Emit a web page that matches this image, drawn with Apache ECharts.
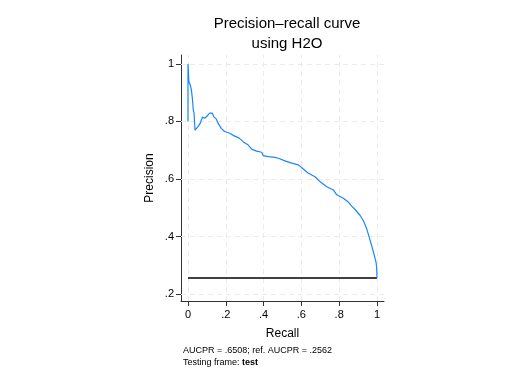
<!DOCTYPE html>
<html>
<head>
<meta charset="utf-8">
<script src="https://cdn.jsdelivr.net/npm/echarts@6/dist/echarts.min.js"></script>
<style>html,body{margin:0;padding:0;background:#fff;}#c{width:528px;height:384px;}</style>
</head>
<body>
<div id="c"></div>
<script>
const recall = [0, 0, 0.005, 0.012, 0.018, 0.023, 0.026, 0.028, 0.032, 0.037, 0.053, 0.065, 0.076, 0.088, 0.101, 0.115, 0.129, 0.136, 0.150, 0.159, 0.176, 0.194, 0.221, 0.247, 0.266, 0.282, 0.293, 0.319, 0.337, 0.363, 0.390, 0.398, 0.425, 0.460, 0.478, 0.513, 0.549, 0.584, 0.610, 0.637, 0.672, 0.698, 0.734, 0.769, 0.787, 0.822, 0.848, 0.866, 0.884, 0.910, 0.928, 0.946, 0.959, 0.972, 0.984, 0.995, 0.998, 1.0];
const precision = [0.80, 1.0, 0.938, 0.927, 0.910, 0.881, 0.875, 0.840, 0.829, 0.770, 0.782, 0.794, 0.815, 0.811, 0.819, 0.829, 0.829, 0.817, 0.808, 0.794, 0.776, 0.765, 0.759, 0.749, 0.744, 0.736, 0.729, 0.718, 0.704, 0.697, 0.693, 0.681, 0.678, 0.675, 0.672, 0.663, 0.655, 0.649, 0.635, 0.620, 0.608, 0.591, 0.573, 0.562, 0.545, 0.533, 0.520, 0.506, 0.494, 0.474, 0.455, 0.426, 0.397, 0.368, 0.339, 0.310, 0.293, 0.2562];
const refAUCPR = 0.2562;
const xTicks = [0, 0.2, 0.4, 0.6, 0.8, 1];
const yTicks = [0.2, 0.4, 0.6, 0.8, 1];
const fmt = v => v === 0 ? '0' : (v === 1 ? '1' : String(v).replace(/^0/, ''));

const chart = echarts.init(document.getElementById('c'), null, {renderer: 'canvas'});
const gridStyle = {color: '#ebebeb', type: [5, 4], width: 1};
const markLines = xTicks.map(v => ({xAxis: v})).concat(yTicks.map(v => ({yAxis: v})));
chart.setOption({
  animation: false,
  title: {
    text: 'Precision\u2013recall curve\nusing H2O',
    left: 282, top: 9, textAlign: 'center',
    textStyle: {fontFamily: 'Liberation Sans, Arial', fontWeight: 'normal', fontSize: 15, color: '#000', lineHeight: 20}
  },
  grid: {left: 181, right: 144, top: 55, bottom: 83},
  xAxis: {
    type: 'value', min: -0.037, max: 1.037,
    name: 'Recall', nameLocation: 'middle', nameGap: 27,
    nameTextStyle: {fontFamily: 'Liberation Sans, Arial', fontSize: 12, color: '#000'},
    axisLine: {show: true, onZero: false, lineStyle: {color: '#333', width: 1}},
    axisTick: {show: true, length: 5, customValues: xTicks, lineStyle: {color: '#333'}},
    axisLabel: {customValues: xTicks, formatter: fmt, fontFamily: 'Liberation Sans, Arial', fontSize: 11, color: '#000', margin: 8},
    splitLine: {show: false}
  },
  yAxis: {
    type: 'value', min: 0.176, max: 1.031,
    name: 'Precision', nameLocation: 'middle', nameGap: 25, nameRotate: 90,
    nameTextStyle: {fontFamily: 'Liberation Sans, Arial', fontSize: 12, color: '#000'},
    axisLine: {show: true, onZero: false, lineStyle: {color: '#333', width: 1}},
    axisTick: {show: true, length: 5, customValues: yTicks, lineStyle: {color: '#333'}},
    axisLabel: {customValues: yTicks, formatter: fmt, fontFamily: 'Liberation Sans, Arial', fontSize: 11, color: '#000', margin: 7},
    splitLine: {show: false}
  },
  series: [
    {
      type: 'line', data: [], silent: true,
      markLine: {silent: true, symbol: 'none', label: {show: false}, lineStyle: gridStyle, data: markLines, z: 1}
    },
    {
      type: 'line', data: [[0, refAUCPR], [1, refAUCPR]], symbol: 'none',
      lineStyle: {color: '#000', width: 1.5}, z: 3
    },
    {
      type: 'line', data: recall.map((r, i) => [r, precision[i]]), symbol: 'none',
      lineStyle: {color: '#1a85ff', width: 1.2}, z: 4
    }
  ],
  graphic: [{
    type: 'text', left: 183, top: 345,
    style: {
      text: 'AUCPR = .6508; ref. AUCPR = .2562\n{n|Testing frame: }{b|test}',
      fontFamily: 'Liberation Sans, Arial', fontSize: 9, lineHeight: 12, fill: '#000',
      rich: {n: {fontSize: 9, fontFamily: 'Liberation Sans, Arial'}, b: {fontSize: 9, fontWeight: 'bold', fontFamily: 'Liberation Sans, Arial'}}
    }
  }]
});
</script>
</body>
</html>
